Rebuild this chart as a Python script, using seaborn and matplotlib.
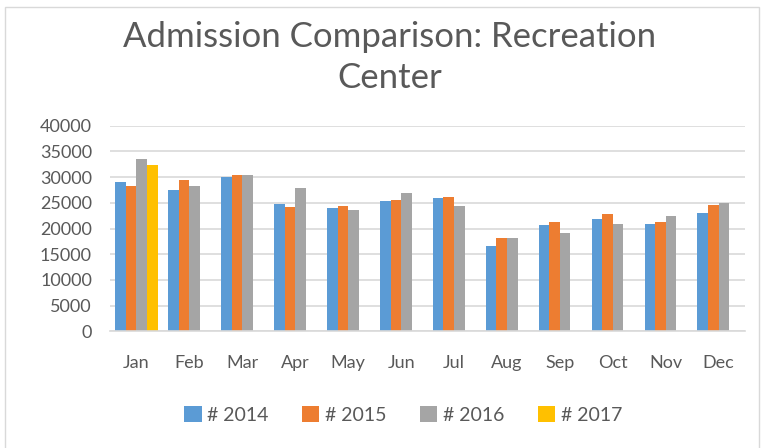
import numpy as np
import pandas as pd
import matplotlib
matplotlib.use("Agg")
import matplotlib.pyplot as plt
import seaborn as sns
from matplotlib.patches import Rectangle

months = ["Jan", "Feb", "Mar", "Apr", "May", "Jun", "Jul", "Aug", "Sep", "Oct", "Nov", "Dec"]
y2014 = [29100, 27400, 30000, 24800, 23900, 25300, 25900, 16600, 20700, 21900, 20900, 23100]
y2015 = [28300, 29400, 30400, 24100, 24400, 25500, 26100, 18150, 21300, 22900, 21300, 24650]
y2016 = [33500, 28200, 30400, 27950, 23600, 26850, 24300, 18200, 19100, 20900, 22450, 25000]
y2017 = [32400] + [np.nan] * 11
series = ["# 2014", "# 2015", "# 2016", "# 2017"]
colors = ["#5B9BD5", "#ED7D31", "#A5A5A5", "#FFC000"]
yticks = [0, 5000, 10000, 15000, 20000, 25000, 30000, 35000, 40000]

rows = []
for name, vals in zip(series, [y2014, y2015, y2016, y2017]):
    for m, v in zip(months, vals):
        rows.append({"Month": m, "Series": name, "Value": v})
df = pd.DataFrame(rows)

sns.set_theme(style="white")
plt.rcParams["font.family"] = ["Lato", "DejaVu Sans"]

fig = plt.figure(figsize=(7.65, 4.48), dpi=100)
ax = fig.add_axes([0.1438, 0.2605, 0.8302, 0.4589])

sns.barplot(data=df, x="Month", y="Value", hue="Series", hue_order=series,
            order=months, palette=colors, width=0.8, saturation=1,
            linewidth=0, ax=ax, legend=True)

ax.set_ylim(0, 40000)
ax.set_xlim(-0.5, 11.5)
ax.set_yticks(yticks)
ax.set_yticklabels([str(t) for t in yticks])
ax.yaxis.grid(True, color="#D9D9D9", linewidth=1.2)
ax.set_axisbelow(True)
for s in ["top", "right", "left"]:
    ax.spines[s].set_visible(False)
ax.spines["bottom"].set_color("#D9D9D9")
ax.spines["bottom"].set_linewidth(1.2)
ax.tick_params(axis="both", length=0, labelsize=13, colors="#595959")
ax.tick_params(axis="x", pad=17)
ax.tick_params(axis="y", pad=13)
ax.set_xlabel("")
ax.set_ylabel("")

leg = ax.get_legend()
handles, labels = ax.get_legend_handles_labels()
leg.remove()
fig.legend(handles, labels, loc="center", bbox_to_anchor=(0.527, 0.074), ncol=4,
           frameon=False, fontsize=14, handlelength=0.9, handleheight=0.9,
           handletextpad=0.3, columnspacing=1.7, labelcolor="#595959")

fig.text(0.509, 0.872, "Admission Comparison: Recreation\nCenter", ha="center", va="center",
         fontsize=25, color="#595959", linespacing=1.35)

fig.patches.append(Rectangle((0.007, -0.01), 0.985, 0.995, transform=fig.transFigure,
                             fill=False, edgecolor="#D9D9D9", linewidth=1))

fig.savefig("out.png", dpi=100)
